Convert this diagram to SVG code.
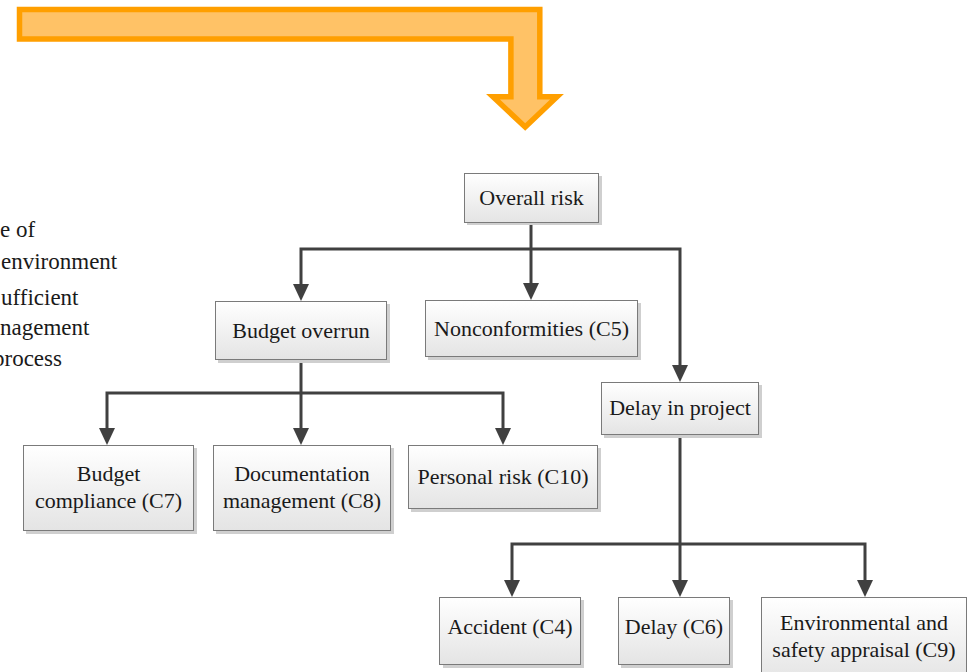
<svg xmlns="http://www.w3.org/2000/svg" width="969" height="672" viewBox="0 0 969 672">
<style>
.box{fill:url(#g);stroke:#7a7a7a;stroke-width:1}
.sh{fill:#cfcfcf}
.t{font-family:"Liberation Serif","Times New Roman",serif;font-size:22px;fill:#1a1a1a;text-anchor:middle}
.lt{font-family:"Liberation Serif","Times New Roman",serif;font-size:23px;fill:#1a1a1a}
.c{fill:none;stroke:#404040;stroke-width:3;stroke-linejoin:miter}
.a{marker-end:url(#ah)}
</style>
<defs>
<linearGradient id="g" x1="0" y1="0" x2="0" y2="1">
<stop offset="0" stop-color="#ffffff"/>
<stop offset="1" stop-color="#e4e4e4"/>
</linearGradient>
<marker id="ah" markerUnits="userSpaceOnUse" viewBox="0 0 17 16" refX="0" refY="8" markerWidth="17" markerHeight="16" orient="auto">
<path d="M0,0 L17,8 L0,16 Z" fill="#404040"/>
</marker>
</defs>
<rect width="969" height="672" fill="#ffffff"/>
<g id="big-arrow">
<path d="M19.5,9.5 H539.8 V96.8 H557 L525.2,127 L493,96.8 H510.9 V39 H19.5 Z" fill="#ffc266" stroke="#ff9f00" stroke-width="5.5" stroke-linejoin="miter"/>
</g>
<g id="side-text">
<text class="lt" x="0" y="237">e of</text>
<text class="lt" x="1" y="269">environment</text>
<text class="lt" x="1" y="305">ufficient</text>
<text class="lt" x="0" y="335">nagement</text>
<text class="lt" x="-7" y="366">process</text>
</g>
<g id="connectors">
<path class="c" d="M531,222 V249"/>
<path class="c a" d="M531,249 H301 V284"/>
<path class="c a" d="M531,249 V283"/>
<path class="c a" d="M531,249 H680 V365"/>
<path class="c" d="M301,360 V393"/>
<path class="c a" d="M301,393 H107 V428"/>
<path class="c a" d="M301,393 V428"/>
<path class="c a" d="M301,393 H503 V428"/>
<path class="c" d="M680,435 V544"/>
<path class="c a" d="M680,544 H512 V580"/>
<path class="c a" d="M680,544 V580"/>
<path class="c a" d="M680,544 H865 V580"/>
</g>
<g id="overall-risk">
<rect class="sh" x="467" y="176" width="135" height="49"/>
<rect class="box" x="464.5" y="173.5" width="134" height="49"/>
<text class="t" x="531.5" y="205">Overall risk</text>
</g>
<g id="budget-overrun">
<rect class="sh" x="218" y="304" width="172" height="59"/>
<rect class="box" x="215.5" y="301.5" width="171" height="58"/>
<text class="t" x="301" y="338">Budget overrun</text>
</g>
<g id="nonconformities">
<rect class="sh" x="428" y="303" width="213" height="57"/>
<rect class="box" x="425.5" y="300.5" width="212" height="56"/>
<text class="t" x="531.5" y="336">Nonconformities (C5)</text>
</g>
<g id="delay-in-project">
<rect class="sh" x="604" y="385" width="158" height="53"/>
<rect class="box" x="601.5" y="382.5" width="157" height="52"/>
<text class="t" x="680" y="415">Delay in project</text>
</g>
<g id="budget-compliance">
<rect class="sh" x="26" y="448" width="171" height="86"/>
<rect class="box" x="23.5" y="445.5" width="170" height="85"/>
<text class="t" x="108.5" y="481">Budget</text>
<text class="t" x="108.5" y="508">compliance (C7)</text>
</g>
<g id="documentation-management">
<rect class="sh" x="216" y="448" width="178" height="86"/>
<rect class="box" x="213.5" y="445.5" width="177" height="85"/>
<text class="t" x="302" y="481">Documentation</text>
<text class="t" x="302" y="508">management (C8)</text>
</g>
<g id="personal-risk">
<rect class="sh" x="411" y="448" width="190" height="64"/>
<rect class="box" x="408.5" y="445.5" width="189" height="63"/>
<text class="t" x="503" y="484">Personal risk (C10)</text>
</g>
<g id="accident">
<rect class="sh" x="443" y="600" width="141" height="68"/>
<rect class="box" x="439.5" y="597.5" width="141" height="67"/>
<text class="t" x="510" y="634">Accident (C4)</text>
</g>
<g id="delay">
<rect class="sh" x="621" y="600" width="112" height="68"/>
<rect class="box" x="618.5" y="597.5" width="111" height="67"/>
<text class="t" x="674" y="634">Delay (C6)</text>
</g>
<g id="environmental-safety">
<rect class="box" x="761.5" y="597.5" width="205" height="85"/>
<text class="t" x="864" y="630">Environmental and</text>
<text class="t" x="864" y="657">safety appraisal (C9)</text>
</g>
</svg>
